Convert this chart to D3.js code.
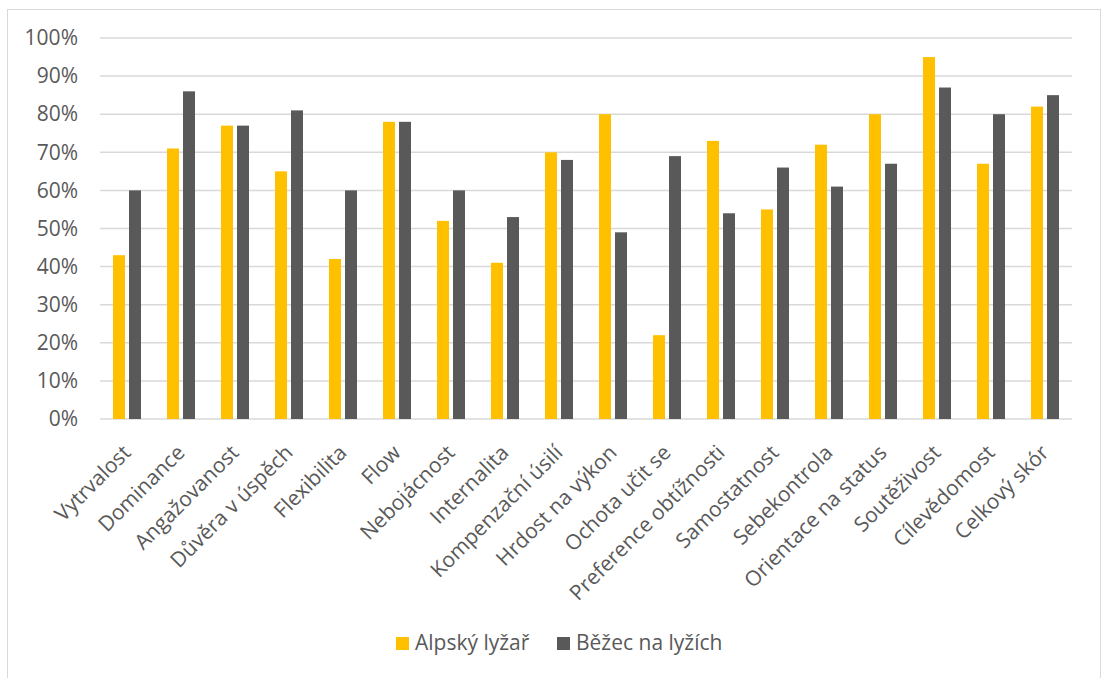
<!DOCTYPE html>
<html>
<head>
<meta charset="utf-8">
<script src="https://cdn.jsdelivr.net/npm/d3@7"></script>
<style>
  html, body { margin: 0; padding: 0; background: #fff; }
  svg { display: block; font-family: "Open Sans", sans-serif; }
</style>
</head>
<body>
<svg id="chart" width="1102" height="678"></svg>
<script>
const categories = ["Vytrvalost", "Dominance", "Angažovanost", "Důvěra v úspěch", "Flexibilita", "Flow",
  "Nebojácnost", "Internalita", "Kompenzační úsilí", "Hrdost na výkon", "Ochota učit se",
  "Preference obtížnosti", "Samostatnost", "Sebekontrola", "Orientace na status", "Soutěživost",
  "Cílevědomost", "Celkový skór"];
const seriesNames = ["Alpský lyžař", "Běžec na lyžích"];
const alpskyLyzar = [43, 71, 77, 65, 42, 78, 52, 41, 70, 80, 22, 73, 55, 72, 80, 95, 67, 82];
const bezecNaLyzich = [60, 86, 77, 81, 60, 78, 60, 53, 68, 49, 69, 54, 66, 61, 67, 87, 80, 85];
const yTicks = [0, 10, 20, 30, 40, 50, 60, 70, 80, 90, 100];
const colors = ["#FFC000", "#595959"];

const svg = d3.select("#chart");
const plot = { left: 100, right: 1072, top: 38, bottom: 419 };

// chart border
svg.append("rect")
  .attr("x", 7.5).attr("y", 9.5).attr("width", 1093).attr("height", 700)
  .attr("fill", "none").attr("stroke", "#D9D9D9").attr("stroke-width", 1);

const x = d3.scaleBand().domain(categories).range([plot.left, plot.right]).paddingInner(0).paddingOuter(0);
const y = d3.scaleLinear().domain([0, 100]).range([plot.bottom, plot.top]);
const bw = x.bandwidth();
const xs = d3.scaleBand().domain(seriesNames).range([bw / 2 - 14, bw / 2 + 14]).paddingInner(0.25);

// gridlines
svg.append("g").selectAll("line").data(yTicks).join("line")
  .attr("x1", plot.left).attr("x2", plot.right)
  .attr("y1", d => y(d)).attr("y2", d => y(d))
  .attr("stroke", "#D9D9D9").attr("stroke-width", 1.5);

// y axis labels
const yAxis = d3.axisLeft(y).tickValues(yTicks).tickFormat(d => d + "%").tickSize(0).tickPadding(22);
const gy = svg.append("g").attr("transform", `translate(${plot.left},0)`).call(yAxis);
gy.select(".domain").remove();
gy.selectAll("text").attr("font-size", 21).attr("fill", "#595959").attr("font-family", "Open Sans");

// bars
const series = [alpskyLyzar, bezecNaLyzich];
series.forEach((vals, si) => {
  svg.append("g").selectAll("rect").data(vals).join("rect")
    .attr("x", (d, i) => x(categories[i]) + xs(seriesNames[si]))
    .attr("width", xs.bandwidth())
    .attr("y", d => y(d))
    .attr("height", d => y(0) - y(d))
    .attr("fill", colors[si]);
});

// x axis labels
const xAxis = d3.axisBottom(x).tickSize(0).tickPadding(0);
const gx = svg.append("g").attr("transform", `translate(0,${plot.bottom})`).call(xAxis);
gx.select(".domain").remove();
gx.selectAll("text")
  .attr("font-size", 21).attr("fill", "#595959").attr("font-family", "Open Sans")
  .attr("text-anchor", "end")
  .attr("dy", 0).attr("y", 0)
  .attr("transform", "translate(5,35) rotate(-45)");

// legend
const legend = svg.append("g");
const legendX = [396, 557];
seriesNames.forEach((name, i) => {
  legend.append("rect").attr("x", legendX[i]).attr("y", 637).attr("width", 13).attr("height", 13).attr("fill", colors[i]);
  legend.append("text").attr("x", legendX[i] + 19).attr("y", 650)
    .attr("font-size", 21).attr("fill", "#595959").text(name);
});
</script>
</body>
</html>
